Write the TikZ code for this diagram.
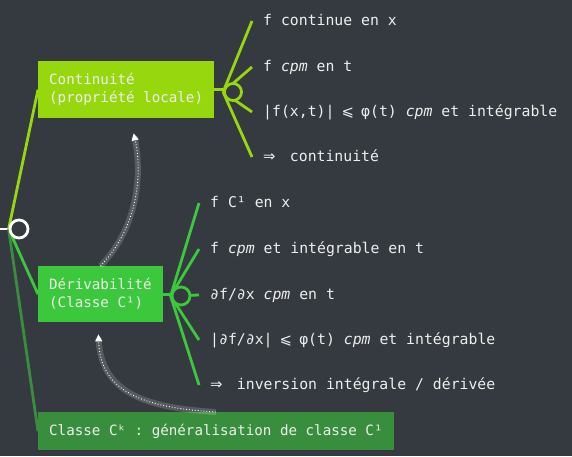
\documentclass[tikz,border=0pt]{standalone}
\usepackage{fontspec}
\setmonofont{DejaVu Sans Mono}
\newfontfamily\symfont{DejaVu Sans}
\newcommand{\leqs}{\makebox[0.602em]{\symfont ⩽}}
\newcommand{\impl}{\makebox[1.204em][l]{\symfont ⇒}}
\usetikzlibrary{arrows.meta,calc,positioning}
\definecolor{bgdark}{HTML}{343A40}
\definecolor{lime}{HTML}{97D70E}
\definecolor{leafgreen}{HTML}{3CC83C}
\definecolor{darkgreen}{HTML}{388E3C}
\definecolor{ink}{HTML}{EEEEEE}
\pgfdeclarelayer{links}
\pgfsetlayers{links,main}

\begin{document}
\begin{tikzpicture}[x=1pt,y=-1pt,
  box/.style={anchor=north west,inner xsep=11pt,inner ysep=0pt,align=left,text=ink,
    font=\ttfamily\fontsize{14.2}{18}\selectfont},
  leaf/.style={anchor=west,inner xsep=11pt,inner ysep=0pt,text=ink,text height=11pt,text depth=2pt,
    font=\ttfamily\fontsize{14.8}{18}\selectfont},
  hub/.style={circle,line width=2.8pt,fill=bgdark,minimum size=17pt,inner sep=0pt},
  branch/.style={line width=2.8pt},
  flowband/.style={line width=6pt,white,opacity=0.17,shorten >=3pt},
  flow/.style={white,line width=0.9pt,dotted,-{Triangle[width=7pt,length=7pt]}}]
  \useasboundingbox (0,0) rectangle (572,456);
  \begin{pgfonlayer}{links}
    \fill[bgdark] (0,0) rectangle (572,456);
  \end{pgfonlayer}
  % root
  \coordinate (start) at (0,229);
  \node[hub,draw=white,minimum size=18pt] (root) at (19,229) {};
  % boxes
  \node[box,fill=lime,minimum height=57pt] (cont) at (38,61) {Continuité\\(propriété locale)};
  \node[box,fill=leafgreen,minimum height=56pt] (deriv) at (38,266) {Dérivabilité\\(Classe C¹)};
  \node[box,fill=darkgreen,minimum height=38pt] (ck) at (38,412) {Classe Cᵏ : généralisation de classe C¹};
  % hubs
  \node[hub,draw=lime] (conthub) at (233,92) {};
  \node[hub,draw=leafgreen,minimum size=18pt] (derivhub) at (181,296) {};
  % conditions of continuity
  \node[leaf] (c1) at (252,21) {f continue en x};
  \node[leaf] (c2) at (252,67) {f \textit{cpm} en t};
  \node[leaf] (c3) at (252,112) {|f(x,t)| \leqs{} φ(t) \textit{cpm} et intégrable};
  \node[leaf] (c4) at (252,157) {\impl{} continuité};
  % conditions of derivability
  \node[leaf] (d1) at (199,203) {f C¹ en x};
  \node[leaf] (d2) at (199,249) {f \textit{cpm} et intégrable en t};
  \node[leaf] (d3) at (199,295) {∂f/∂x \textit{cpm} en t};
  \node[leaf] (d4) at (199,340) {|∂f/∂x| \leqs{} φ(t) \textit{cpm} et intégrable};
  \node[leaf] (d5) at (199,385) {\impl{} inversion intégrale / dérivée};
  % links
  \begin{pgfonlayer}{links}
    \draw[branch,white] (start) -- (root.west);
    \draw[branch,lime] (root.west) -- (cont.west);
    \draw[branch,leafgreen] (root.west) -- (deriv.west);
    \draw[branch,darkgreen] (root.west) -- (ck.west);
    \draw[branch,lime] (cont.east) -- (cont.east -| conthub);
    \foreach \n in {c1,c2,c3,c4}
      \draw[branch,lime] (conthub.west) -- (\n.west);
    \draw[branch,leafgreen] (deriv.east) -- (deriv.east -| derivhub);
    \foreach \n in {d1,d2,d3,d4,d5}
      \draw[branch,leafgreen] (derivhub.west) -- (\n.west);
  \end{pgfonlayer}
  % generalisation arrows
  \draw[flowband] (deriv.north) .. controls (140,225) and (142,170) .. ([xshift=7.5pt,yshift=-15pt]cont.south);
  \draw[flow] (deriv.north) .. controls (140,225) and (142,170) .. ([xshift=7.5pt,yshift=-15pt]cont.south);
  \draw[flowband] (ck.north) .. controls (150,408) and (100,395) .. ([xshift=-2pt,yshift=-12pt]deriv.south);
  \draw[flow] (ck.north) .. controls (150,408) and (100,395) .. ([xshift=-2pt,yshift=-12pt]deriv.south);
\end{tikzpicture}
\end{document}
